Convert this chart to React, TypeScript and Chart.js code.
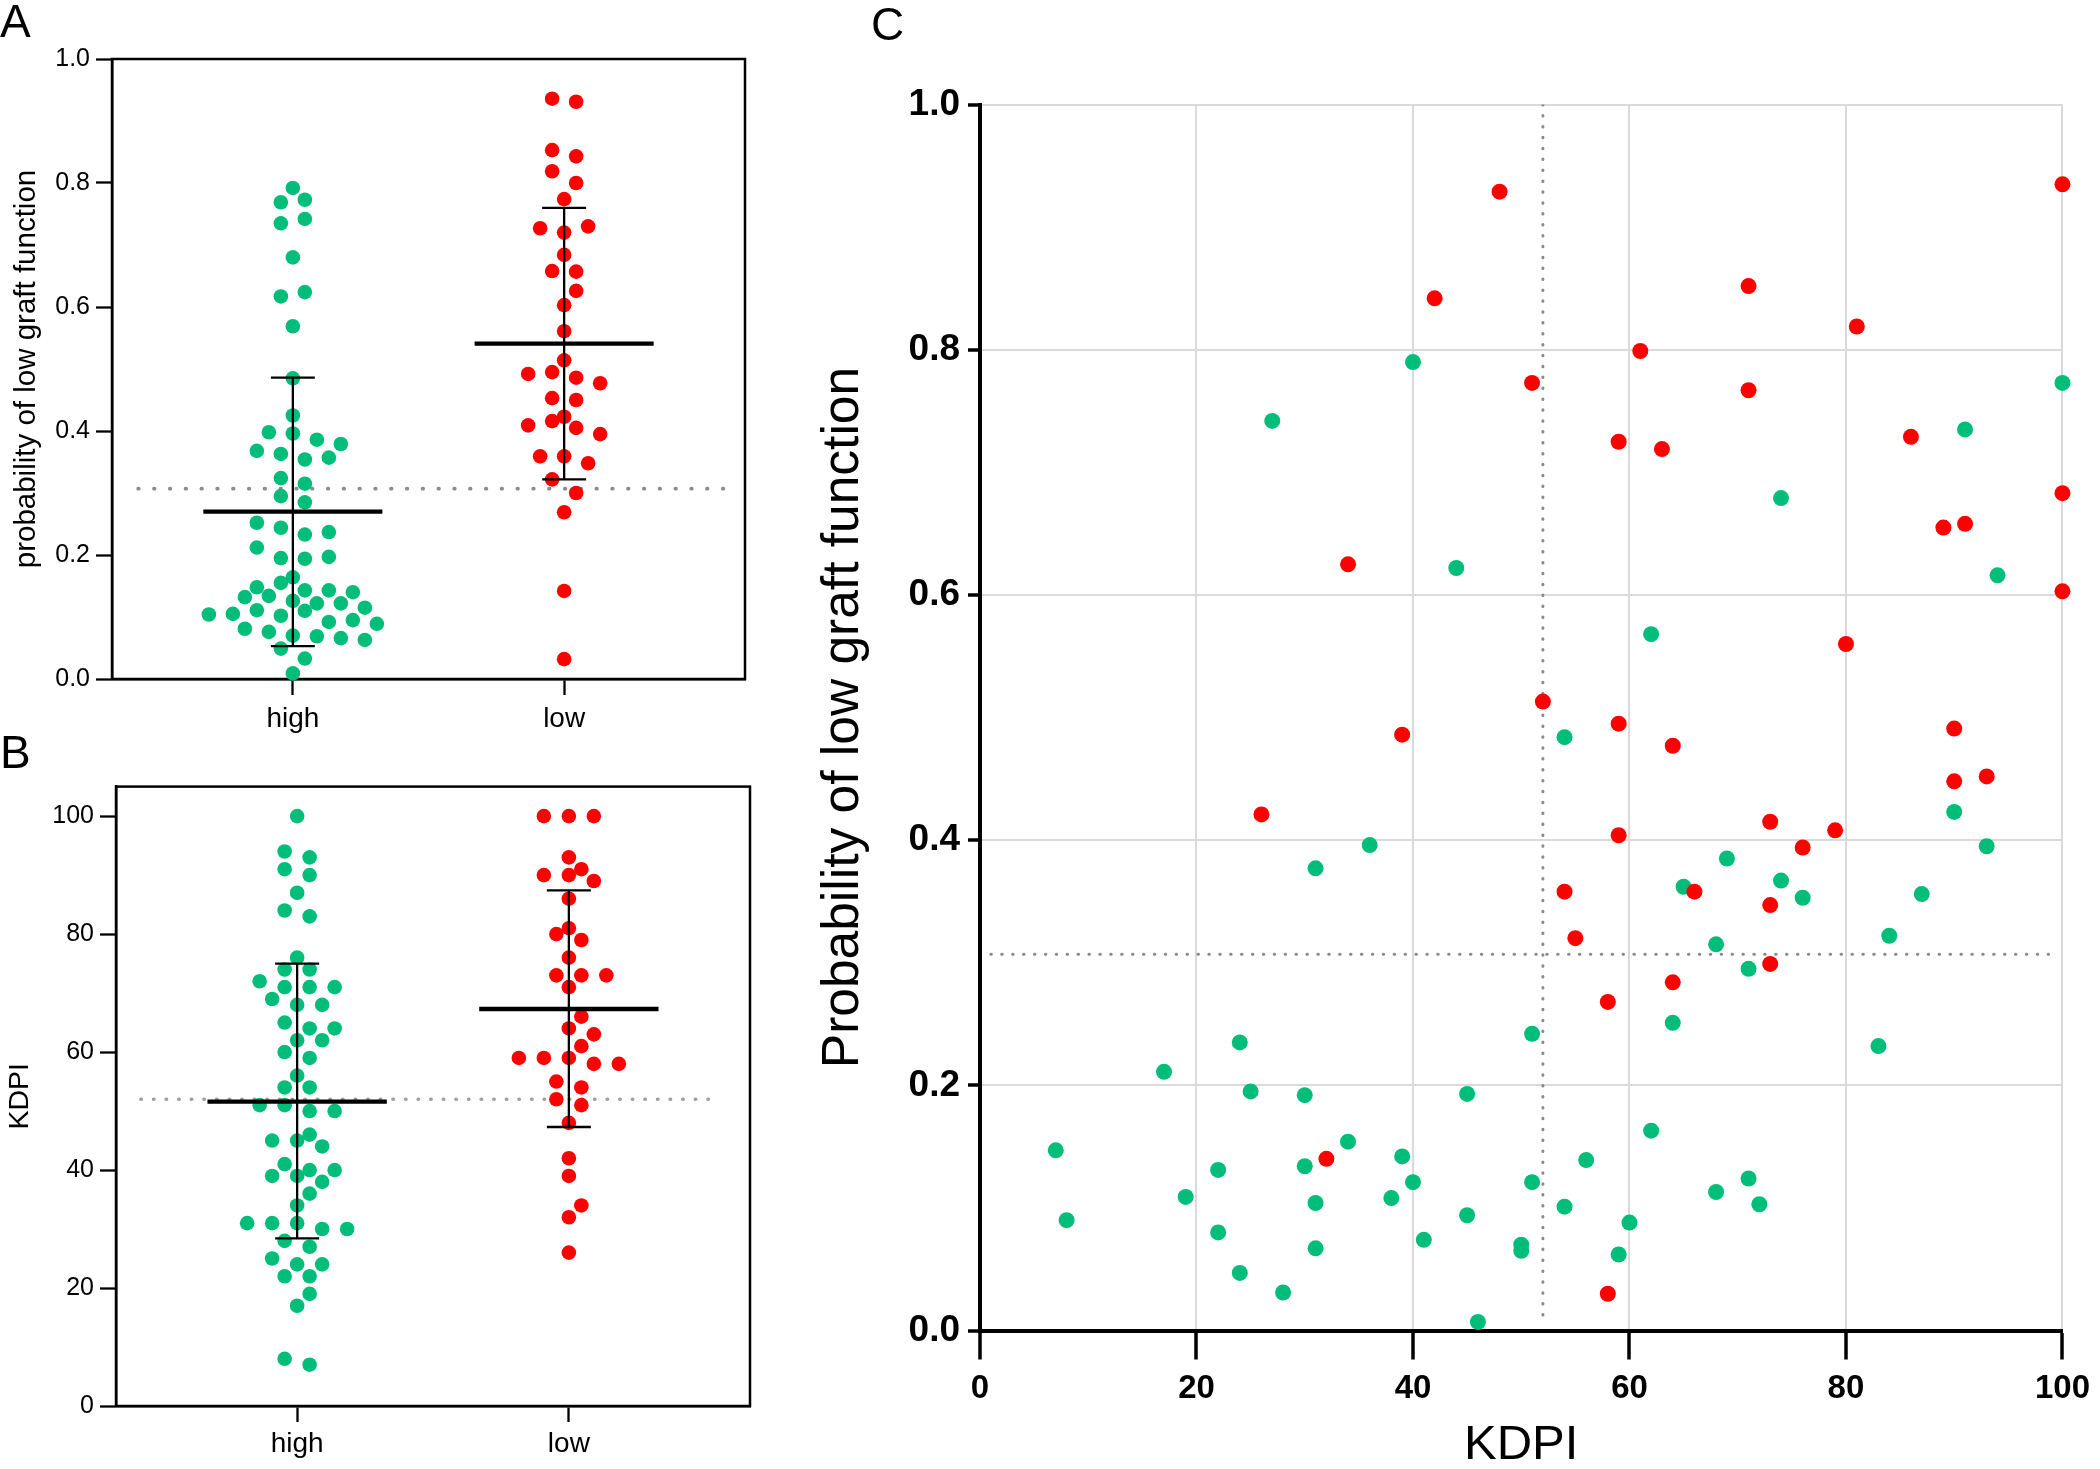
import React, { useEffect, useRef } from 'react';
import { Chart, registerables } from 'chart.js';

Chart.register(...registerables);

const FONT = "'Liberation Sans', Arial, Helvetica, sans-serif";
const GREEN = 'rgb(0,190,122)';
const RED = 'rgb(255,0,0)';

// ---------- shared ----------
const groupLabels = ['high', 'low'];

// ---------- Panel A : probability of low graft function ----------
const probHigh = [0.792, 0.769, 0.773, 0.735, 0.742, 0.680, 0.617, 0.624, 0.569, 0.485, 0.425, 0.398, 0.396, 0.386, 0.379, 0.368, 0.363, 0.354, 0.357, 0.324, 0.315, 0.295, 0.285, 0.252, 0.244, 0.233, 0.237, 0.212, 0.195, 0.194, 0.197, 0.164, 0.148, 0.155, 0.132, 0.134, 0.143, 0.143, 0.140, 0.126, 0.122, 0.122, 0.104, 0.105, 0.115, 0.111, 0.102, 0.110, 0.081, 0.092, 0.095, 0.089, 0.076, 0.070, 0.069, 0.066, 0.063, 0.049, 0.033, 0.009];
const probLow = [0.936, 0.931, 0.853, 0.843, 0.819, 0.800, 0.774, 0.727, 0.720, 0.730, 0.684, 0.658, 0.657, 0.626, 0.603, 0.561, 0.514, 0.492, 0.495, 0.486, 0.477, 0.453, 0.450, 0.423, 0.409, 0.416, 0.405, 0.395, 0.359, 0.359, 0.348, 0.322, 0.300, 0.269, 0.142, 0.032];
const probMean = [0.270, 0.541];
const probSdLower = [0.053, 0.322];
const probSdUpper = [0.486, 0.760];
const probCutoff = 0.307;
const probTicks = [0, 0.2, 0.4, 0.6, 0.8, 1.0];

// ---------- Panel B : KDPI ----------
const kdpiHigh = [100, 94, 93, 91, 90, 87, 84, 83, 76, 74, 74, 72, 71, 71, 71, 69, 68, 68, 65, 64, 64, 62, 62, 60, 59, 56, 54, 54, 51, 51, 50, 50, 46, 45, 45, 44, 41, 40, 40, 39, 39, 38, 36, 34, 31, 31, 31, 30, 30, 28, 27, 25, 24, 24, 22, 22, 19, 17, 8, 7];
const kdpiLow = [100, 100, 100, 93, 91, 90, 90, 89, 86, 81, 80, 79, 76, 73, 73, 73, 71, 66, 64, 63, 61, 59, 59, 59, 58, 58, 55, 54, 52, 51, 48, 42, 39, 34, 32, 26];
const kdpiMean = [51.6, 67.3];
const kdpiSdLower = [28.4, 47.3];
const kdpiSdUpper = [75.0, 87.4];
const kdpiCutoff = 52;
const kdpiTicks = [0, 20, 40, 60, 80, 100];

// ---------- Panel C : KDPI vs probability ----------
const cHighKdpi = [40, 27, 44, 100, 91, 74, 94, 62, 54, 36, 31, 90, 93, 69, 74, 65, 76, 87, 84, 68, 71, 64, 51, 24, 83, 17, 25, 30, 45, 62, 34, 7, 39, 56, 22, 30, 71, 40, 51, 68, 19, 38, 31, 54, 72, 45, 8, 60, 22, 41, 31, 50, 50, 59, 24, 28, 46];
const cHighProb = [0.790, 0.742, 0.622, 0.773, 0.735, 0.679, 0.616, 0.568, 0.484, 0.396, 0.377, 0.423, 0.395, 0.385, 0.367, 0.362, 0.353, 0.356, 0.322, 0.315, 0.295, 0.251, 0.242, 0.235, 0.232, 0.211, 0.195, 0.192, 0.193, 0.163, 0.154, 0.147, 0.142, 0.139, 0.131, 0.134, 0.124, 0.121, 0.121, 0.113, 0.109, 0.108, 0.104, 0.101, 0.103, 0.094, 0.090, 0.088, 0.080, 0.074, 0.067, 0.070, 0.065, 0.062, 0.047, 0.031, 0.007];
const cLowKdpi = [48, 100, 71, 42, 81, 61, 51, 71, 86, 59, 63, 100, 91, 89, 34, 100, 80, 52, 59, 90, 39, 64, 93, 90, 26, 73, 79, 59, 76, 66, 54, 73, 55, 73, 64, 58, 32, 58];
const cLowProb = [0.929, 0.935, 0.852, 0.842, 0.819, 0.799, 0.773, 0.767, 0.729, 0.725, 0.719, 0.683, 0.658, 0.655, 0.625, 0.603, 0.560, 0.513, 0.495, 0.491, 0.486, 0.477, 0.452, 0.448, 0.421, 0.415, 0.408, 0.404, 0.394, 0.358, 0.358, 0.347, 0.320, 0.299, 0.284, 0.268, 0.140, 0.030];
const cCutKdpi = 52;
const cCutProb = 0.307;
const cXTicks = [0, 20, 40, 60, 80, 100];
const cYTicks = [0, 0.2, 0.4, 0.6, 0.8, 1.0];

// ---------- helpers ----------
function swarmOffsets(vals: number[], toPx: (v: number) => number, col: number, rowH: number, diam: number): number[] {
  const n = vals.length;
  const order = vals.map((_, i) => i).sort((a, b) => vals[a] - vals[b] || a - b);
  const out = new Array(n).fill(0);
  const placed: { x: number; y: number }[] = [];
  let i = 0;
  while (i < n) {
    const y0 = toPx(vals[order[i]]);
    const row = [order[i]];
    let j = i + 1;
    while (j < n && Math.abs(toPx(vals[order[j]]) - y0) < rowH) {
      row.push(order[j]);
      j++;
    }
    row.sort((a, b) => a - b);
    const m = row.length;
    let bestShift = 0;
    let bestScore = -Infinity;
    for (const s of [0, col / 2, -col / 2]) {
      let minD = Infinity;
      row.forEach((id, k) => {
        const x = (k - (m - 1) / 2) * col + s;
        const y = toPx(vals[id]);
        placed.forEach((p) => {
          minD = Math.min(minD, Math.hypot(p.x - x, p.y - y));
        });
      });
      const score = Math.min(minD, diam) - Math.abs(s) * 1e-3;
      if (score > bestScore) {
        bestScore = score;
        bestShift = s;
      }
    }
    row.forEach((id, k) => {
      const x = (k - (m - 1) / 2) * col + bestShift;
      out[id] = x;
      placed.push({ x, y: toPx(vals[id]) });
    });
    i = j;
  }
  return out;
}

function summaryData(means: number[], lo: number[], hi: number[], halfMean: number, halfCap: number) {
  const meanPts: any[] = [];
  const sdPts: any[] = [];
  means.forEach((m, g) => {
    const c = g + 1;
    meanPts.push({ x: c - halfMean, y: m }, { x: c + halfMean, y: m }, { x: c, y: null });
    sdPts.push(
      { x: c - halfCap, y: hi[g] }, { x: c + halfCap, y: hi[g] }, { x: c, y: null },
      { x: c, y: hi[g] }, { x: c, y: lo[g] }, { x: c, y: null },
      { x: c - halfCap, y: lo[g] }, { x: c + halfCap, y: lo[g] }, { x: c, y: null }
    );
  });
  return { meanPts, sdPts };
}

const framePlugin = {
  id: 'frameBox',
  beforeDatasetsDraw(chart: any) {
    const { ctx, chartArea } = chart;
    ctx.save();
    ctx.strokeStyle = '#000';
    ctx.lineWidth = 2.5;
    ctx.strokeRect(chartArea.left, chartArea.top, chartArea.right - chartArea.left, chartArea.bottom - chartArea.top);
    ctx.restore();
  },
};

interface DotCfg {
  high: number[];
  low: number[];
  mean: number[];
  sdLo: number[];
  sdHi: number[];
  cutoff: number;
  cutFrom: number;
  cutTo: number;
  cutColor: string;
  cutWidth: number;
  cutDash: number[];
  yMax: number;
  yTicks: number[];
  yFmt: (v: number) => string;
  yTitle: string;
  yTitleSize: number;
  yTitlePad: number;
  padTop: number;
  padRight: number;
  yWidth: number;
  xHeight: number;
  xPad: number;
  col: number;
  rowH: number;
}

function buildDotChart(canvas: HTMLCanvasElement, cfg: DotCfg) {
  const { meanPts, sdPts } = summaryData(cfg.mean, cfg.sdLo, cfg.sdHi, 0.33, 0.081);
  const chart = new Chart(canvas, {
    type: 'scatter',
    data: {
      datasets: [
        {
          type: 'line',
          data: [{ x: cfg.cutFrom, y: cfg.cutoff }, { x: cfg.cutTo, y: cfg.cutoff }],
          borderColor: cfg.cutColor,
          borderWidth: cfg.cutWidth,
          borderDash: cfg.cutDash,
          borderCapStyle: 'round',
          pointRadius: 0,
          order: 10,
        } as any,
        {
          data: cfg.high.map((v) => ({ x: 1, y: v })),
          backgroundColor: GREEN,
          borderWidth: 0,
          pointRadius: 7.3,
          clip: false,
          order: 3,
        } as any,
        {
          data: cfg.low.map((v) => ({ x: 2, y: v })),
          backgroundColor: RED,
          borderWidth: 0,
          pointRadius: 7.3,
          clip: false,
          order: 2,
        } as any,
        {
          type: 'line',
          data: sdPts,
          borderColor: '#000',
          borderWidth: 2.3,
          pointRadius: 0,
          spanGaps: false,
          order: 1,
        } as any,
        {
          type: 'line',
          data: meanPts,
          borderColor: '#000',
          borderWidth: 4.3,
          pointRadius: 0,
          spanGaps: false,
          order: 0,
        } as any,
      ],
    },
    options: {
      responsive: false,
      animation: false,
      events: [],
      layout: { padding: { top: cfg.padTop, right: cfg.padRight, left: 0, bottom: 0 } },
      plugins: { legend: { display: false }, tooltip: { enabled: false } },
      scales: {
        x: {
          type: 'linear',
          min: 1 / 3,
          max: 8 / 3,
          afterBuildTicks: (s: any) => {
            s.ticks = [{ value: 1 }, { value: 2 }];
          },
          afterFit: (s: any) => {
            s.height = cfg.xHeight;
          },
          ticks: {
            callback: (v: any) => groupLabels[Math.round(v) - 1],
            font: { family: FONT, size: 28 },
            color: '#000',
            padding: cfg.xPad,
            maxRotation: 0,
          },
          grid: { drawOnChartArea: false, drawTicks: true, tickLength: 16, tickColor: '#000', tickWidth: 2.3 },
          border: { display: true, color: '#000', width: 2.5 },
        },
        y: {
          type: 'linear',
          min: 0,
          max: cfg.yMax,
          afterBuildTicks: (s: any) => {
            s.ticks = cfg.yTicks.map((v) => ({ value: v }));
          },
          afterFit: (s: any) => {
            s.width = cfg.yWidth;
          },
          ticks: {
            callback: (v: any) => cfg.yFmt(Number(v)),
            font: { family: FONT, size: 25 },
            color: '#000',
            padding: 6,
          },
          grid: { drawOnChartArea: false, drawTicks: true, tickLength: 16, tickColor: '#000', tickWidth: 2.3 },
          border: { display: true, color: '#000', width: 2.5 },
          title: {
            display: true,
            text: cfg.yTitle,
            color: '#000',
            font: { family: FONT, size: cfg.yTitleSize, lineHeight: 1.2 },
            padding: { top: cfg.yTitlePad, bottom: 0 },
          },
        },
      },
    } as any,
    plugins: [framePlugin],
  });

  const xs: any = chart.scales.x;
  const ys: any = chart.scales.y;
  const unit = xs.getPixelForValue(2) - xs.getPixelForValue(1);
  [cfg.high, cfg.low].forEach((vals, g) => {
    const offs = swarmOffsets(vals, (v) => ys.getPixelForValue(v), cfg.col, cfg.rowH, 15);
    (chart.data.datasets[g + 1] as any).data = vals.map((v, i) => ({ x: g + 1 + offs[i] / unit, y: v }));
  });
  chart.update('none');
  return chart;
}

function buildScatter(canvas: HTMLCanvasElement) {
  return new Chart(canvas, {
    type: 'scatter',
    data: {
      datasets: [
        {
          type: 'line',
          data: [{ x: cCutKdpi, y: 1.0 }, { x: cCutKdpi, y: 0.005 }],
          borderColor: '#8a8a8a',
          borderWidth: 3,
          borderDash: [0.5, 10.4],
          borderCapStyle: 'round',
          pointRadius: 0,
          order: 10,
        } as any,
        {
          type: 'line',
          data: [{ x: 1, y: cCutProb }, { x: 99.5, y: cCutProb }],
          borderColor: '#8a8a8a',
          borderWidth: 3,
          borderDash: [0.5, 10.4],
          borderCapStyle: 'round',
          pointRadius: 0,
          order: 9,
        } as any,
        {
          data: cHighKdpi.map((k, i) => ({ x: k, y: cHighProb[i] })),
          backgroundColor: GREEN,
          borderWidth: 0,
          pointRadius: 8,
          clip: false,
          order: 2,
        } as any,
        {
          data: cLowKdpi.map((k, i) => ({ x: k, y: cLowProb[i] })),
          backgroundColor: RED,
          borderWidth: 0,
          pointRadius: 8,
          clip: false,
          order: 1,
        } as any,
      ],
    },
    options: {
      responsive: false,
      animation: false,
      events: [],
      layout: { padding: { top: 104.6, right: 27, left: 0, bottom: 0 } },
      plugins: { legend: { display: false }, tooltip: { enabled: false } },
      scales: {
        x: {
          type: 'linear',
          min: 0,
          max: 100,
          afterBuildTicks: (s: any) => {
            s.ticks = cXTicks.map((v) => ({ value: v }));
          },
          afterFit: (s: any) => {
            s.height = 138.5;
          },
          ticks: {
            font: { family: FONT, size: 33, weight: 'bold' },
            color: '#000',
            padding: 10,
            maxRotation: 0,
          },
          grid: { color: '#dadada', lineWidth: 2, z: -1, drawTicks: true, tickLength: 29, tickColor: '#000', tickWidth: 3.5 },
          border: { display: true, color: '#000', width: 4 },
          title: {
            display: true,
            text: 'KDPI',
            color: '#000',
            font: { family: FONT, size: 49, lineHeight: 0.95 },
            padding: { top: 0, bottom: 0 },
          },
        },
        y: {
          type: 'linear',
          min: 0,
          max: 1,
          afterBuildTicks: (s: any) => {
            s.ticks = cYTicks.map((v) => ({ value: v }));
          },
          afterFit: (s: any) => {
            s.width = 180;
          },
          ticks: {
            callback: (v: any) => Number(v).toFixed(1),
            font: { family: FONT, size: 37, weight: 'bold' },
            color: '#000',
            padding: 8,
          },
          grid: { color: '#dadada', lineWidth: 2, z: -1, drawTicks: true, tickLength: 12, tickColor: '#000', tickWidth: 3.5 },
          border: { display: true, color: '#000', width: 4 },
          title: {
            display: true,
            text: 'Probability of low graft function',
            color: '#000',
            font: { family: FONT, size: 51.5, lineHeight: 1.2 },
            padding: { top: 13, bottom: 0 },
          },
        },
      },
    } as any,
  });
}

export default function App() {
  const refA = useRef<HTMLCanvasElement>(null);
  const refB = useRef<HTMLCanvasElement>(null);
  const refC = useRef<HTMLCanvasElement>(null);

  useEffect(() => {
    const charts: Chart[] = [];
    if (refA.current) {
      charts.push(
        buildDotChart(refA.current, {
          high: probHigh,
          low: probLow,
          mean: probMean,
          sdLo: probSdLower,
          sdHi: probSdUpper,
          cutoff: probCutoff,
          cutFrom: 0.43,
          cutTo: 2.63,
          cutColor: '#8c8c8c',
          cutWidth: 3.8,
          cutDash: [0.5, 15.3],
          yMax: 1,
          yTicks: probTicks,
          yFmt: (v) => v.toFixed(1),
          yTitle: 'probability of low graft function',
          yTitleSize: 29.5,
          yTitlePad: 9.5,
          padTop: 59,
          padRight: 15,
          yWidth: 112,
          xHeight: 66,
          xPad: 7,
          col: 24,
          rowH: 14,
        })
      );
    }
    if (refB.current) {
      charts.push(
        buildDotChart(refB.current, {
          high: kdpiHigh,
          low: kdpiLow,
          mean: kdpiMean,
          sdLo: kdpiSdLower,
          sdHi: kdpiSdUpper,
          cutoff: kdpiCutoff,
          cutFrom: 0.425,
          cutTo: 2.53,
          cutColor: '#a0a0a0',
          cutWidth: 3.5,
          cutDash: [0.5, 12.1],
          yMax: 105,
          yTicks: kdpiTicks,
          yFmt: (v) => String(Math.round(v)),
          yTitle: 'KDPI',
          yTitleSize: 28.5,
          yTitlePad: 3,
          padTop: 56.6,
          padRight: 10,
          yWidth: 116,
          xHeight: 63,
          xPad: 5,
          col: 25,
          rowH: 10,
        })
      );
    }
    if (refC.current) charts.push(buildScatter(refC.current));
    return () => charts.forEach((c) => c.destroy());
  }, []);

  const letter: React.CSSProperties = {
    position: 'absolute',
    fontFamily: FONT,
    fontSize: 46,
    lineHeight: 1,
    color: '#000',
  };

  return (
    <div style={{ position: 'absolute', left: 0, top: 0, width: 2100, height: 1469, background: '#fff', overflow: 'hidden' }}>
      <canvas ref={refA} width={760} height={745} style={{ position: 'absolute', left: 0, top: 0, width: 760, height: 745 }} />
      <canvas ref={refB} width={760} height={739} style={{ position: 'absolute', left: 0, top: 730, width: 760, height: 739 }} />
      <canvas ref={refC} width={1300} height={1469} style={{ position: 'absolute', left: 800, top: 0, width: 1300, height: 1469 }} />
      <div style={{ ...letter, left: 0, top: -2 }}>A</div>
      <div style={{ ...letter, left: 0, top: 729 }}>B</div>
      <div style={{ ...letter, left: 871, top: 1 }}>C</div>
    </div>
  );
}
